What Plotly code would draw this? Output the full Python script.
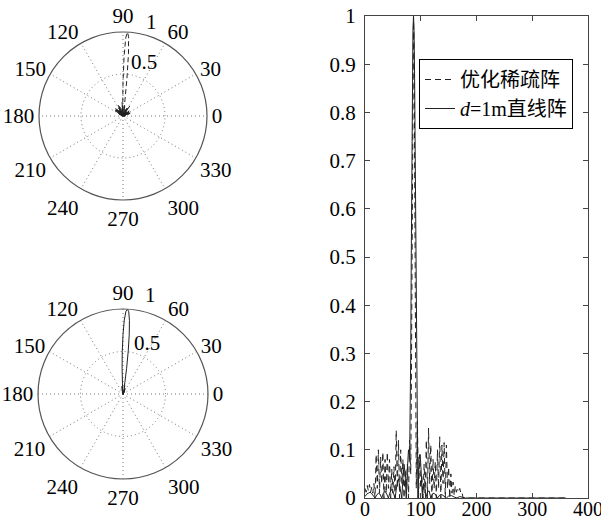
import plotly.graph_objects as go

# ---- data (angle in degrees, normalized pattern amplitude) ----
sparse_angle = [0, 2, 4, 6, 8, 10, 12, 14, 16, 18, 20, 22, 24, 26, 28, 30, 32, 34, 36, 38,
                40, 42, 44, 46, 48, 50, 52, 54, 56, 58, 60, 62, 64, 66, 68, 70, 72, 74, 76, 78,
                80, 82, 83, 84, 85, 86, 87, 88, 89, 90, 91, 92, 94, 96, 98, 100, 102, 104, 106,
                108, 110, 112, 114, 116, 118, 120, 122, 124, 126, 128, 130, 132, 134, 136, 138,
                140, 142, 144, 146, 148, 150, 152, 154, 156, 158, 160, 162, 164, 166, 168, 170,
                172, 174, 176, 180, 360]
sparse_value = [0.02, 0.012, 0.026, 0.015, 0.028, 0.012, 0.022, 0.01, 0.03, 0.0, 0.09, 0.02,
                0.1, 0.01, 0.085, 0.03, 0.095, 0.0, 0.08, 0.01, 0.095, 0.02, 0.08, 0.0, 0.06,
                0.01, 0.065, 0.0, 0.14, 0.02, 0.12, 0.0, 0.1, 0.03, 0.08, 0.0, 0.06, 0.01, 0.07,
                0.0, 0.12, 0.05, 0.2, 0.45, 0.75, 0.95, 1.0, 0.93, 0.7, 0.4, 0.15, 0.02, 0.16,
                0.0, 0.09, 0.02, 0.045, 0.0, 0.07, 0.01, 0.12, 0.0, 0.145, 0.03, 0.11, 0.0, 0.08,
                0.02, 0.075, 0.0, 0.1, 0.02, 0.127, 0.0, 0.11, 0.03, 0.115, 0.0, 0.11, 0.02,
                0.064, 0.0, 0.05, 0.01, 0.033, 0.005, 0.025, 0.012, 0.02, 0.015, 0.02, 0.01,
                0.012, 0.0, 0.0, 0.0]

line_angle = [0, 3, 6, 9, 12, 15, 18, 21, 24, 27, 30, 33, 36, 39, 42, 45, 48, 51, 54, 57,
              60, 63, 66, 68, 70, 72, 74, 76, 78, 80, 81, 82, 83, 84, 85, 86, 87, 88, 89, 90,
              91, 92, 93, 94, 95, 97, 99, 101, 103, 105, 107, 109, 112, 115, 118, 122, 126,
              130, 134, 138, 142, 146, 150, 155, 160, 165, 170, 175, 180, 360]
line_value = [0.003, 0.008, 0.01, 0.012, 0.009, 0.004, 0.0, 0.006, 0.01, 0.008, 0.0, 0.01,
              0.014, 0.008, 0.0, 0.012, 0.018, 0.01, 0.0, 0.025, 0.04, 0.02, 0.0, 0.04, 0.07,
              0.05, 0.0, 0.06, 0.1, 0.08, 0.15, 0.3, 0.5, 0.7, 0.87, 0.97, 1.0, 0.97, 0.87,
              0.7, 0.5, 0.3, 0.12, 0.03, 0.0, 0.085, 0.09, 0.05, 0.0, 0.03, 0.025, 0.0, 0.012,
              0.015, 0.0, 0.01, 0.008, 0.0, 0.006, 0.007, 0.003, 0.0, 0.004, 0.005, 0.002, 0.0,
              0.003, 0.001, 0.0, 0.0]

angle_ticks = [0, 30, 60, 90, 120, 150, 180, 210, 240, 270, 300, 330]
radial_tick_labels = ["0.5", "1"]
x_ticks = [0, 100, 200, 300, 400]
y_ticks = [0, 0.1, 0.2, 0.3, 0.4, 0.5, 0.6, 0.7, 0.8, 0.9, 1]

sparse_name = "优化稀疏阵"
line_name = "<i>d</i>=1m直线阵"

FONT = "Liberation Serif, Times New Roman, serif"
LINE_COLOR = "#222222"
GRID = "#777777"

W, H = 601, 522


def fx(px):
    return px / W


def fy(py):
    return 1 - py / H


fig = go.Figure()

fig.add_trace(go.Scatterpolar(theta=sparse_angle, r=sparse_value, mode="lines",
                              line=dict(color=LINE_COLOR, width=1, dash="5px,3px"),
                              subplot="polar", showlegend=False))
fig.add_trace(go.Scatterpolar(theta=line_angle, r=line_value, mode="lines",
                              line=dict(color=LINE_COLOR, width=1),
                              subplot="polar2", showlegend=False))

fig.add_trace(go.Scatter(x=sparse_angle, y=sparse_value, mode="lines", name=sparse_name,
                         line=dict(color=LINE_COLOR, width=1, dash="6px,4px")))
fig.add_trace(go.Scatter(x=line_angle, y=line_value, mode="lines", name=line_name,
                         line=dict(color=LINE_COLOR, width=1)))

polar_common = dict(
    bgcolor="white",
    angularaxis=dict(rotation=0, direction="counterclockwise", tickvals=angle_ticks,
                     ticktext=[str(a) for a in angle_ticks], showline=True,
                     linecolor="#555555", linewidth=1.2, ticks="",
                     gridcolor=GRID, griddash="1px,3px", gridwidth=1,
                     tickfont=dict(family=FONT, size=21, color="black")),
    radialaxis=dict(range=[0, 1], tickvals=[0.5, 1], showticklabels=False,
                    angle=80, showline=False, ticks="",
                    gridcolor=GRID, griddash="1px,3px", gridwidth=1),
)

annotations = []
radial_label_pos = [((143.5, 62), (151, 22)), ((147, 343), (150, 295))]
for pos_half, pos_one in radial_label_pos:
    for txt, (ax_, ay_) in zip(radial_tick_labels, [pos_half, pos_one]):
        annotations.append(dict(text=txt, x=fx(ax_), y=fy(ay_), xref="paper", yref="paper",
                                xanchor="center", yanchor="middle", showarrow=False,
                                font=dict(family=FONT, size=21, color="black")))

fig.update_layout(
    width=W, height=H,
    margin=dict(l=0, r=0, t=0, b=0, autoexpand=False),
    paper_bgcolor="white", plot_bgcolor="white",
    font=dict(family=FONT, size=21, color="black"),
    polar=dict(domain=dict(x=[fx(39), fx(207)], y=[fy(200), fy(32)]), **polar_common),
    polar2=dict(domain=dict(x=[fx(38), fx(208)], y=[fy(479), fy(309)]), **polar_common),
    xaxis=dict(domain=[fx(365), fx(588)], range=[0, 400], tickvals=x_ticks,
               showline=True, linecolor="#444444", linewidth=1, mirror="ticks",
               ticks="inside", ticklen=5, tickcolor="#444444", showgrid=False,
               zeroline=False, automargin=False, ticklabelstandoff=-7,
               ticklabeloverflow="allow", tickfont=dict(family=FONT, size=20)),
    yaxis=dict(domain=[fy(498), fy(16)], range=[0, 1], tickvals=y_ticks,
               ticktext=["0", "0.1", "0.2", "0.3", "0.4", "0.5", "0.6", "0.7", "0.8", "0.9", "1"],
               showline=True, linecolor="#444444", linewidth=1, mirror="ticks",
               ticks="inside", ticklen=5, tickcolor="#444444", showgrid=False,
               zeroline=False, automargin=False, ticklabelstandoff=4,
               ticklabeloverflow="allow", tickfont=dict(family=FONT, size=21)),
    legend=dict(x=fx(419), y=fy(59), xanchor="left", yanchor="top",
                bgcolor="white", bordercolor="black", borderwidth=1,
                font=dict(family="Liberation Serif, Noto Sans CJK SC", size=20),
                itemwidth=30, tracegroupgap=0),
    annotations=annotations,
)

fig.write_html("out.html", config={"displayModeBar": False},
               post_script="document.body.style.margin='0';document.body.style.overflow='hidden';")
